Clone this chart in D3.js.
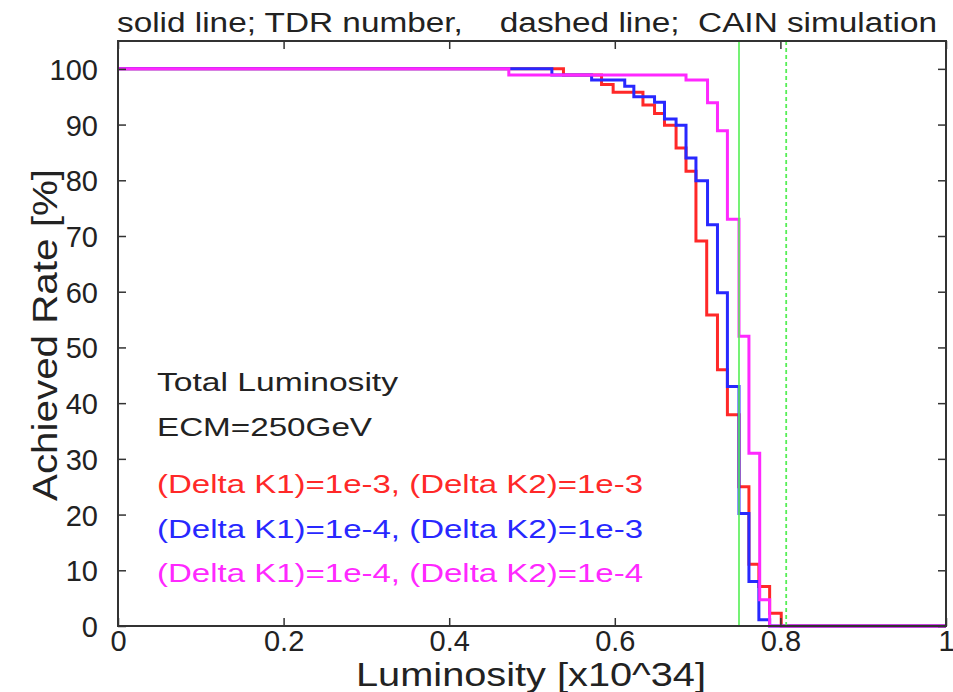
<!DOCTYPE html>
<html>
<head>
<meta charset="utf-8">
<script src="https://cdn.jsdelivr.net/npm/d3@7"></script>
<style>
  body { margin: 0; background: #fff; }
  svg { display: block; }
  text { font-family: "Liberation Sans", Arial, Helvetica, sans-serif; fill: #222; }
</style>
</head>
<body>
<div id="chart"></div>
<script>
// tick marks
const xTickVals = [0, 0.2, 0.4, 0.6, 0.8, 1];
const xTickLabels = ["0", "0.2", "0.4", "0.6", "0.8", "1"];
const yTickVals = [0, 10, 20, 30, 40, 50, 60, 70, 80, 90, 100];

// step curves: luminosity where each level starts, and the level [%]
const redLum = [0, 0.538, 0.584, 0.598, 0.634, 0.648, 0.660, 0.674, 0.686, 0.698, 0.711, 0.724, 0.736, 0.750, 0.762, 0.774, 0.787, 0.801, 1];
const redRate = [100, 98.9, 97.2, 95.8, 93.5, 92.0, 89.9, 85.8, 81.6, 69.1, 55.8, 46.0, 37.9, 25.0, 11.1, 7.1, 2.3, 0, 0];

const blueLum = [0, 0.524, 0.572, 0.612, 0.623, 0.648, 0.660, 0.674, 0.686, 0.698, 0.712, 0.724, 0.736, 0.750, 0.762, 0.774, 0.787, 1];
const blueRate = [100, 98.9, 98.0, 96.9, 95.0, 94.0, 91.0, 89.9, 84.0, 79.9, 72.0, 59.8, 43.0, 20.2, 8.0, 1.1, 0, 0];

const pinkLum = [0, 0.472, 0.686, 0.712, 0.724, 0.736, 0.750, 0.762, 0.775, 0.787, 1];
const pinkRate = [100, 98.9, 98.0, 93.9, 88.9, 73.0, 52.0, 31.0, 4.7, 0, 0];

// vertical reference lines
const tdrLum = 0.75;
const cainLum = 0.807;

const titleText = "solid line; TDR number,    dashed line;  CAIN simulation";
const infoLines = ["Total Luminosity", "ECM=250GeV"];
const legendLines = [
  "(Delta K1)=1e-3, (Delta K2)=1e-3",
  "(Delta K1)=1e-4, (Delta K2)=1e-3",
  "(Delta K1)=1e-4, (Delta K2)=1e-4",
];

const size = { width: 953, height: 692 };
const margin = { left: 118, right: 7, top: 41, bottom: 66 };

const svg = d3
  .select("#chart")
  .append("svg")
  .attr("width", size.width)
  .attr("height", size.height);

const x = d3.scaleLinear().domain([0, 1]).range([margin.left, size.width - margin.right]);
const y = d3.scaleLinear().domain([0, 105]).range([size.height - margin.bottom, margin.top]);

const series = [
  { lum: redLum, rate: redRate, color: "#ff2828" },
  { lum: blueLum, rate: blueRate, color: "#2828ff" },
  { lum: pinkLum, rate: pinkRate, color: "#ff28ff" },
];

const line = d3
  .line()
  .x((d) => x(d[0]))
  .y((d) => y(d[1]))
  .curve(d3.curveStepAfter);

svg
  .selectAll(".curve")
  .data(series)
  .enter()
  .append("path")
  .attr("class", "curve")
  .attr("fill", "none")
  .attr("stroke", (d) => d.color)
  .attr("stroke-width", 3)
  .attr("d", (d) => line(d.lum.map((l, i) => [l, d.rate[i]])));

// TDR (solid) and CAIN (dashed) markers
svg
  .append("line")
  .attr("x1", x(tdrLum))
  .attr("x2", x(tdrLum))
  .attr("y1", y(105))
  .attr("y2", y(0))
  .attr("stroke", "#55ee55")
  .attr("stroke-opacity", 0.9)
  .attr("stroke-width", 1.8);

svg
  .append("line")
  .attr("x1", x(cainLum))
  .attr("x2", x(cainLum))
  .attr("y1", y(105))
  .attr("y2", y(0))
  .attr("stroke", "#55ee55")
  .attr("stroke-width", 1.8)
  .attr("stroke-dasharray", "4,3");

// axes, all ticks inward
const axisColor = "#333";
const styleAxis = (g) => {
  g.select(".domain").remove();
  g.selectAll(".tick line").attr("stroke", axisColor).attr("stroke-width", 1.5);
};

svg
  .append("g")
  .attr("transform", `translate(0,${y(0)})`)
  .call(
    d3.axisBottom(x).tickValues(xTickVals).tickFormat((d, i) => xTickLabels[i]).tickSize(-8)
  )
  .call(styleAxis)
  .call((g) =>
    g.selectAll(".tick text")
      .attr("y", 25)
      .attr("dy", 0)
      .attr("font-size", 29)
      .attr("fill", "#222")
  );

svg
  .append("g")
  .attr("transform", `translate(0,${y(105)})`)
  .call(d3.axisTop(x).tickValues(xTickVals).tickFormat("").tickSize(-8))
  .call(styleAxis);

svg
  .append("g")
  .attr("transform", `translate(${x(0)},0)`)
  .call(d3.axisLeft(y).tickValues(yTickVals).tickSize(-8))
  .call(styleAxis)
  .call((g) =>
    g.selectAll(".tick text")
      .attr("x", -20)
      .attr("dy", "0.36em")
      .attr("font-size", 29)
      .attr("fill", "#222")
  );

svg
  .append("g")
  .attr("transform", `translate(${x(1)},0)`)
  .call(d3.axisRight(y).tickValues(yTickVals).tickFormat("").tickSize(-8))
  .call(styleAxis);

// frame
svg
  .append("rect")
  .attr("x", x(0))
  .attr("y", y(105))
  .attr("width", x(1) - x(0))
  .attr("height", y(0) - y(105))
  .attr("fill", "none")
  .attr("stroke", axisColor)
  .attr("stroke-width", 2);

// title
svg
  .append("text")
  .attr("x", 117)
  .attr("y", 32)
  .attr("font-size", 27)
  .attr("textLength", 820)
  .attr("lengthAdjust", "spacingAndGlyphs")
  .style("white-space", "pre")
  .text(titleText);

// axis titles
svg
  .append("text")
  .attr("x", 531)
  .attr("y", 686)
  .attr("text-anchor", "middle")
  .attr("font-size", 34)
  .attr("textLength", 350)
  .attr("lengthAdjust", "spacingAndGlyphs")
  .text("Luminosity [x10^34]");

svg
  .append("text")
  .attr("transform", "translate(57,335) rotate(-90)")
  .attr("text-anchor", "middle")
  .attr("font-size", 35)
  .attr("textLength", 332)
  .attr("lengthAdjust", "spacingAndGlyphs")
  .text("Achieved Rate [%]");

// info block
svg
  .selectAll(".info")
  .data(infoLines)
  .enter()
  .append("text")
  .attr("class", "info")
  .attr("x", 157)
  .attr("y", (d, i) => 391 + i * 45)
  .attr("font-size", 26)
  .attr("textLength", (d, i) => (i === 0 ? 241 : 215))
  .attr("lengthAdjust", "spacingAndGlyphs")
  .text((d) => d);

svg
  .selectAll(".legend")
  .data(legendLines)
  .enter()
  .append("text")
  .attr("class", "legend")
  .attr("x", 157)
  .attr("y", (d, i) => 493 + i * 44.5)
  .attr("font-size", 26)
  .attr("textLength", 486)
  .attr("lengthAdjust", "spacingAndGlyphs")
  .style("fill", (d, i) => series[i].color)
  .text((d) => d);
</script>
</body>
</html>
